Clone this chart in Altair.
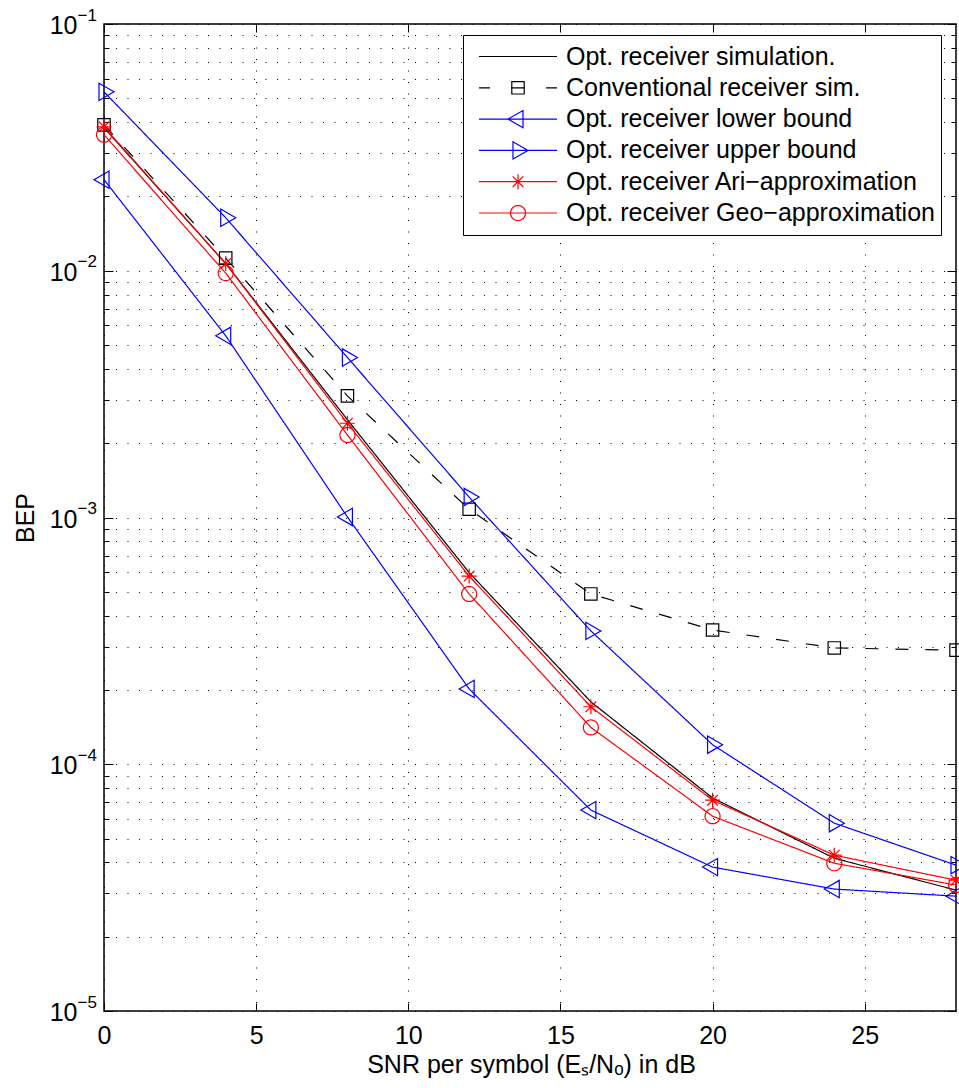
import altair as alt
import pandas as pd
import math

# ---------------- data ----------------
snr = [0, 4, 8, 12, 16, 20, 24, 28]
sim = [0.0380, 0.0107, 0.00249, 0.000598, 0.000179, 7.30e-5, 4.16e-5, 3.09e-5]
conv = [0.0390, 0.01125, 0.00311, 0.00108, 0.00049, 0.00035, 0.000296, 0.00029]
lower = [0.0234, 0.00545, 0.001005, 0.000202, 6.52e-5, 3.83e-5, 3.12e-5, 2.92e-5]
upper = [0.0531, 0.0164, 0.00445, 0.00121, 0.000347, 0.000120, 5.77e-5, 3.90e-5]
ari = [0.0383, 0.0107, 0.00241, 0.000579, 0.000171, 7.15e-5, 4.28e-5, 3.39e-5]
geo = [0.0356, 0.00978, 0.00216, 0.000490, 0.000141, 6.16e-5, 3.97e-5, 3.24e-5]

names = [
    "Opt. receiver simulation.",
    "Conventional receiver sim.",
    "Opt. receiver lower bound",
    "Opt. receiver upper bound",
    "Opt. receiver Ari\u2212approximation",
    "Opt. receiver Geo\u2212approximation",
]
colors = ["#000000", "#000000", "#0000ff", "#0000ff", "#ff0000", "#ff0000"]
dashes = [[1, 0], [13, 17], [1, 0], [1, 0], [1, 0], [1, 0]]
markers = ["none", "square", "triangle-left", "triangle-right", "asterisk", "circle"]
dashed_legend = [False, True, False, False, False, False]

x_tick_values = [0, 5, 10, 15, 20, 25]
y_decades = [1e-5, 1e-4, 1e-3, 1e-2, 1e-1]
y_minor = [m * 10.0 ** k for k in range(-5, -1) for m in range(2, 10)]
y_all = sorted(y_decades + y_minor)

rows = []
for name, vals in zip(names, [sim, conv, lower, upper, ari, geo]):
    for x, v in zip(snr, vals):
        rows.append({"snr": x, "bep": v, "series": name})
df = pd.DataFrame(rows)

# ---------------- styling ----------------
FONT = "Liberation Sans"
W, H = 852, 987
LW = 1.2
PT_SIZE = 256
PT_UNIT = PT_SIZE ** 0.5 / 2
LG_LEN = 78
LG_SIZE = LG_LEN ** 2
LG_UNIT = LG_LEN / 2


def f(v):
    return f"{v:.4f}"


def marker_path(kind, unit):
    if kind == "square":
        h = 6.2 / unit
        return f"M{f(-h)},{f(-h)}L{f(h)},{f(-h)}L{f(h)},{f(h)}L{f(-h)},{f(h)}Z"
    if kind in ("triangle-left", "triangle-right"):
        r = 10.0 / unit
        s = 1 if kind == "triangle-left" else -1
        a, b = r / 2, 0.866 * r
        return f"M{f(-s * r)},0L{f(s * a)},{f(-b)}L{f(s * a)},{f(b)}Z"
    if kind == "circle":
        r = 7.5 / unit
        pts = [(r * math.cos(2 * math.pi * i / 40), r * math.sin(2 * math.pi * i / 40)) for i in range(40)]
        return "M" + "L".join(f"{f(x)},{f(y)}" for x, y in pts) + "Z"
    if kind == "asterisk":
        a = 7.5 / unit
        d = a * 0.707
        return (f"M{f(-a)},0L{f(a)},0M0,{f(-a)}L0,{f(a)}"
                f"M{f(-d)},{f(-d)}L{f(d)},{f(d)}M{f(-d)},{f(d)}L{f(d)},{f(-d)}")
    return ""


def legend_path(kind, dashed):
    if dashed:
        segs = [(-39, -28), (-7, 7), (28, 39)]
        line = "".join(f"M{f(a / LG_UNIT)},0L{f(b / LG_UNIT)},0" for a, b in segs)
    else:
        line = "M-1,0L1,0"
    return line + marker_path(kind, LG_UNIT)


point_paths = [marker_path(k, PT_UNIT) for k in markers[1:]]
legend_paths = [legend_path(k, d) for k, d in zip(markers, dashed_legend)]

x_scale = alt.Scale(domain=[0, 28], nice=False, zero=False)
y_scale = alt.Scale(type="log", domain=[1e-5, 1e-1], nice=False)
color_scale = alt.Scale(domain=names, range=colors)

is_decade = "abs(log(datum.value)/LN10 - round(log(datum.value)/LN10)) < 0.001"

grid_style = dict(grid=True, gridColor="#000000", gridDash=[1, 10.5], gridWidth=1, gridOpacity=1)

main_x_axis = alt.Axis(
    orient="bottom", values=x_tick_values, ticks=False, tickSize=0, domain=False,
    labelFont=FONT, labelFontSize=25, labelColor="#000000", labelPadding=12,
    labelFlush=False, labelOverlap=False, labelAngle=0,
    titleFont=FONT, titleFontSize=25, titleFontWeight="normal", titleColor="#000000",
    titleX=427, titleY=61, titleBaseline="alphabetic", zindex=0, **grid_style)

main_y_axis = alt.Axis(
    orient="left", values=y_all, ticks=False, tickSize=0, domain=False,
    labelExpr=f"{is_decade} ? '10' : ''",
    labelFont=FONT, labelFontSize=25, labelColor="#000000", labelPadding=27,
    labelBaseline="middle", labelOffset=1.5, labelOverlap=False, labelFlush=False,
    titleFont=FONT, titleFontSize=25, titleFontWeight="normal", titleColor="#000000",
    titleX=-71, titleY=H / 2, titleBaseline="alphabetic", zindex=0, **grid_style)

exp_y_axis = alt.Axis(
    orient="left", values=y_decades, grid=False, ticks=False, tickSize=0, domain=False,
    labelExpr="'\u2212' + round(-log(datum.value)/LN10)",
    labelFont=FONT, labelFontSize=17, labelColor="#000000", labelPadding=27,
    labelAlign="left", labelBaseline="middle", labelOffset=-9,
    labelOverlap=False, labelFlush=False)


def tick_axis(orient, values, size):
    return alt.Axis(orient=orient, offset=-size, values=values, ticks=True, tickSize=size,
                    tickColor="#000000", tickWidth=1, labels=False, domain=False, grid=False)


# ---------------- layers ----------------
lines = alt.Chart(df).mark_line(strokeWidth=LW).encode(
    x=alt.X("snr:Q", scale=x_scale, axis=main_x_axis,
            title="SNR per symbol (E\u209b/N\u2092) in dB"),
    y=alt.Y("bep:Q", scale=y_scale, axis=main_y_axis, title="BEP"),
    color=alt.Color("series:N", scale=color_scale, legend=None),
    strokeDash=alt.StrokeDash("series:N", scale=alt.Scale(domain=names, range=dashes), legend=None),
    order=alt.Order("snr:Q"),
)

points = alt.Chart(df).transform_filter(
    alt.datum.series != names[0]
).mark_point(filled=False, opacity=1, strokeWidth=LW, size=PT_SIZE).encode(
    x=alt.X("snr:Q", scale=x_scale, axis=tick_axis("top", x_tick_values, 8), title=None),
    y=alt.Y("bep:Q", scale=y_scale, axis=exp_y_axis, title=None),
    color=alt.Color("series:N", scale=color_scale, legend=None),
    shape=alt.Shape("series:N", scale=alt.Scale(domain=names[1:], range=point_paths), legend=None),
)

legend_def = alt.Legend(
    title=None, orient="none", legendX=359, legendY=11,
    fillColor="#ffffff", strokeColor="#000000", padding=6,
    symbolSize=LG_SIZE, symbolStrokeWidth=LW, symbolOffset=9,
    labelOffset=8, labelFont=FONT, labelFontSize=25, labelColor="#000000",
    labelLimit=0, clipHeight=31, rowPadding=0.3)

legend_layer = alt.Chart(df).transform_filter("false").mark_point(
    filled=False, opacity=1, strokeWidth=LW
).encode(
    x=alt.X("snr:Q", scale=x_scale, axis=tick_axis("bottom", x_tick_values, 8), title=None),
    y=alt.Y("bep:Q", scale=y_scale, axis=tick_axis("left", y_decades, 9), title=None),
    color=alt.Color("series:N", scale=color_scale, legend=legend_def),
    shape=alt.Shape("series:N", scale=alt.Scale(domain=names, range=legend_paths), legend=legend_def),
)


def empty_tick_layer(y_axis):
    return alt.Chart(df).transform_filter("false").mark_point(opacity=0).encode(
        x=alt.X("snr:Q", scale=x_scale, axis=None),
        y=alt.Y("bep:Q", scale=y_scale, axis=y_axis, title=None),
    )


chart = alt.layer(
    lines,
    points,
    legend_layer,
    empty_tick_layer(tick_axis("left", y_minor, 5)),
    empty_tick_layer(tick_axis("right", y_decades, 9)),
    empty_tick_layer(tick_axis("right", y_minor, 5)),
).resolve_scale(
    color="independent", shape="independent"
).resolve_axis(
    x="independent", y="independent"
).properties(
    width=W, height=H,
    autosize=alt.AutoSizeParams(type="none"),
    padding={"left": 104, "top": 24, "right": 3, "bottom": 77},
    background="#ffffff",
).configure(
    font=FONT
).configure_view(
    stroke="#000000", strokeWidth=1.5
)

chart.save("out.html", embed_options={"renderer": "svg", "actions": False})
